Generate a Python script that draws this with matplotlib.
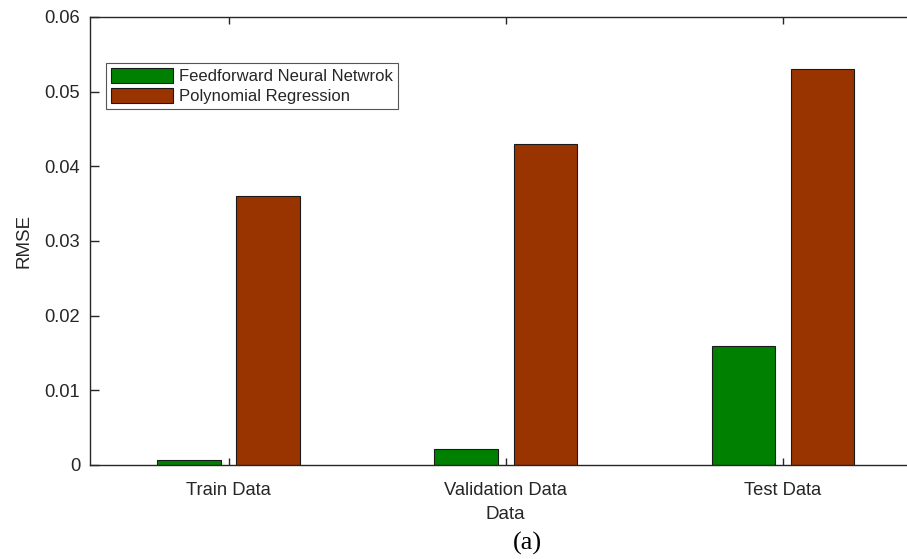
import numpy as np
import matplotlib
matplotlib.use('Agg')
import matplotlib.pyplot as plt
from matplotlib.ticker import FuncFormatter

# Data
categories = ['Train Data', 'Validation Data', 'Test Data']
ffnn_rmse = [0.0007, 0.0022, 0.016]
poly_rmse = [0.036, 0.043, 0.053]
series_names = ['Feedforward Neural Netwrok', 'Polynomial Regression']

plt.rcParams['font.family'] = ['Liberation Sans', 'DejaVu Sans']
text_color = '#262626'

fig = plt.figure(figsize=(9.07, 5.59), dpi=100)
ax = fig.add_axes([0.0992, 0.1682, 0.9168, 0.8014])

x = np.arange(1, len(categories) + 1)
width = 0.229
offset = 0.143

ax.bar(x - offset, ffnn_rmse, width, color='#008000', edgecolor='#1a1a1a',
       linewidth=0.8, label=series_names[0])
ax.bar(x + offset, poly_rmse, width, color='#993300', edgecolor='#1a1a1a',
       linewidth=0.8, label=series_names[1])

ax.set_xlim(0.5, 3.5)
ax.set_ylim(0, 0.06)
ax.set_xticks(x)
ax.set_xticklabels(categories)
ax.set_yticks(np.arange(0, 0.061, 0.01))
ax.yaxis.set_major_formatter(FuncFormatter(lambda v, p: f'{v:g}'))

ax.tick_params(axis='both', direction='in', colors=text_color, labelsize=13.2,
               width=1.0)
ax.tick_params(axis='y', length=6.5, pad=7)
ax.tick_params(axis='x', length=5, top=True, pad=12)
for side in ['left', 'bottom', 'top']:
    ax.spines[side].set_color(text_color)
    ax.spines[side].set_linewidth(1.0)
ax.spines['right'].set_visible(False)

ax.set_xlabel('Data', fontsize=13.5, color=text_color, labelpad=5)
ax.set_ylabel('RMSE', fontsize=13.5, color=text_color, labelpad=9)

leg = ax.legend(loc='upper left', bbox_to_anchor=(0.0192, 0.897),
                borderaxespad=0, fontsize=12, fancybox=False,
                framealpha=1, edgecolor='#555555', handlelength=3.7,
                handleheight=0.95, handletextpad=0.4, labelspacing=0.25,
                borderpad=0.3)
leg.get_frame().set_linewidth(0.8)
for t in leg.get_texts():
    t.set_color(text_color)

fig.text(0.581, 0.028, '(a)', fontsize=19, family='Liberation Serif',
         ha='center', va='center', color='black')

fig.savefig('out.png', dpi=100)
